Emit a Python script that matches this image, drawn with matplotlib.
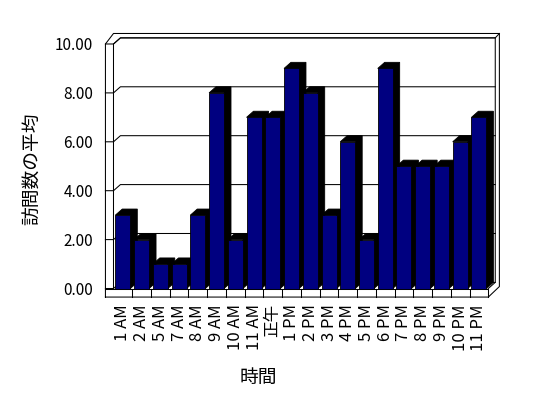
import matplotlib
matplotlib.use("Agg")
import matplotlib.pyplot as plt
from matplotlib.patches import Polygon

plt.rcParams["font.family"] = ["Noto Sans CJK JP", "DejaVu Sans"]

HOURS = ["1 AM", "2 AM", "5 AM", "7 AM", "8 AM", "9 AM", "10 AM", "11 AM", "正午",
         "1 PM", "2 PM", "3 PM", "4 PM", "5 PM", "6 PM", "7 PM", "8 PM", "9 PM",
         "10 PM", "11 PM"]
VISITS = [3, 2, 1, 1, 3, 8, 2, 7, 7, 9, 8, 3, 6, 2, 9, 5, 5, 5, 6, 7]
Y_TICKS = [0, 2, 4, 6, 8, 10]
X_LABEL = "時間"
Y_LABEL = "訪問数の平均"

BAR_FRONT = "#000080"
BAR_SHADE = "#000000"
LINE = "black"

# fake excel-style 3d box, offsets in data units
DX, DY = 0.37, 0.25      # depth of bars / back wall
WALL = 0.43              # left wall thickness
FLOOR = 0.35             # floor thickness
RIM_X, RIM_Y = 0.22, 0.18
BAR_W = 0.8
LW = 0.75


def draw_box(ax, n, top):
    topo = top + DY + RIM_Y
    rx = n + DX + RIM_X
    boto = -FLOOR + DY + RIM_Y
    kw = dict(color=LINE, linewidth=LW, zorder=1)

    # outer outline
    ax.plot([-WALL, -WALL, 0, rx, rx, n, -WALL],
            [-FLOOR, top, topo, topo, boto, -FLOOR, -FLOOR], **kw)
    # inner edge of left wall and top of back wall
    ax.plot([0, 0, DX, n + DX, rx], [0, top, top + DY, top + DY, topo], **kw)
    # right edge of back wall
    ax.plot([n + DX, n + DX, n], [top + DY, DY, 0], **kw)
    # front edge of floor
    ax.plot([-WALL, n, n], [0, 0, -FLOOR], **kw)
    for k in range(1, n):
        ax.plot([k, k], [-FLOOR, 0], **kw)

    # gridlines: tick on wall front, across wall, along back wall
    for v in Y_TICKS:
        ax.plot([-WALL, 0, DX, n + DX], [v, v, v + DY, v + DY], **kw)


def draw_bars(ax):
    xs = [i + 0.5 for i in range(len(VISITS))]
    ax.bar(xs, VISITS, width=BAR_W, color=BAR_FRONT, edgecolor="black",
           linewidth=0.6, zorder=3)
    for x, v in zip(xs, VISITS):
        l = x - BAR_W / 2
        r = x + BAR_W / 2
        pts = [(l, v), (l + DX, v + DY), (r + DX, v + DY), (r + DX, DY), (r, 0), (r, v)]
        ax.add_patch(Polygon(pts, closed=True, facecolor=BAR_SHADE,
                             edgecolor="black", linewidth=0.6, zorder=2))
    return xs


def main():
    W, H = 548, 398
    fig = plt.figure(figsize=(W / 100, H / 100), dpi=100)
    fig.patch.set_facecolor("white")
    # axes box in pixels: left 100, right 505, top 28, bottom 300
    ax = fig.add_axes([100 / W, 1 - 300 / H, 405 / W, 272 / H])

    n = len(VISITS)
    draw_box(ax, n, Y_TICKS[-1])
    xs = draw_bars(ax)

    ax.set_xlim(-0.72, 20.89)
    ax.set_ylim(-0.47, 10.654)

    ax.set_yticks(Y_TICKS)
    ax.set_yticklabels([f"{v:.2f}" for v in Y_TICKS], fontsize=11)
    ax.set_xticks(xs)
    ax.set_xticklabels(HOURS, rotation=90, fontsize=12)
    ax.tick_params(axis="y", length=0, pad=5)
    ax.tick_params(axis="x", length=0, pad=3)
    for s in ax.spines.values():
        s.set_visible(False)
    ax.set_facecolor("none")

    fig.text(258 / W, 1 - 377 / H, X_LABEL, fontsize=13.5, ha="center", va="center")
    fig.text(33 / W, 1 - 169 / H, Y_LABEL, fontsize=13.5, ha="center", va="center",
             rotation=90)

    fig.savefig("out.png", dpi=100)
    plt.close(fig)


if __name__ == "__main__":
    main()
